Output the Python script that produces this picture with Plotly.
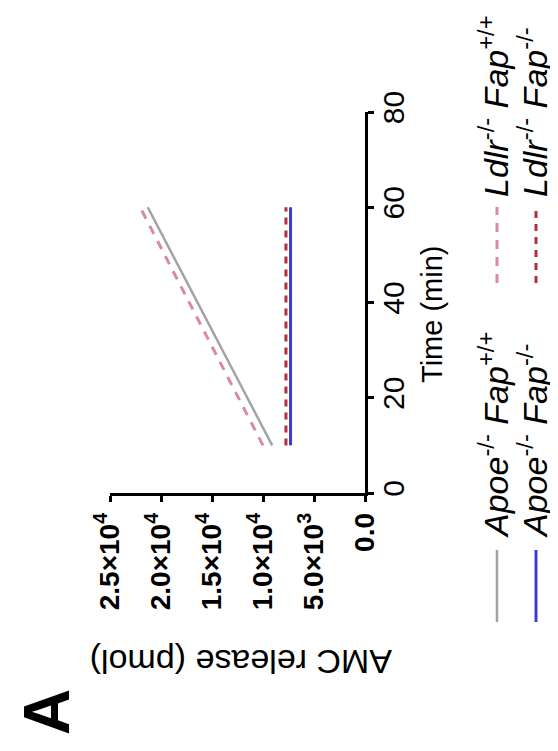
import plotly.graph_objects as go

# ---------------- data ----------------
time_min = [10, 60]
apoe_fap_wt = [9100, 21300]    # Apoe-/- Fap+/+
ldlr_fap_wt = [10000, 22050]   # Ldlr-/- Fap+/+
apoe_fap_ko = [7300, 7300]     # Apoe-/- Fap-/-
ldlr_fap_ko = [7750, 7750]     # Ldlr-/- Fap-/-

amc_ticks = [0, 5000, 10000, 15000, 20000, 25000]
amc_ticktext = ["0.0", "5.0×10<sup>3</sup>", "1.0×10<sup>4</sup>",
                "1.5×10<sup>4</sup>", "2.0×10<sup>4</sup>", "2.5×10<sup>4</sup>"]
time_ticks = [0, 20, 40, 60, 80]

series_names = [
    "<i>Apoe</i><sup>-/-</sup> <i>Fap</i><sup>+/+</sup>",
    "<i>Ldlr</i><sup>-/-</sup> <i>Fap</i><sup>+/+</sup>",
    "<i>Apoe</i><sup>-/-</sup> <i>Fap</i><sup>-/-</sup>",
    "<i>Ldlr</i><sup>-/-</sup> <i>Fap</i><sup>-/-</sup>",
]
series_vals = [apoe_fap_wt, ldlr_fap_wt, apoe_fap_ko, ldlr_fap_ko]
series_colors = ["#a3a3a3", "#d98a9e", "#3b3bd0", "#b0303c"]
series_dash = ["solid", "9px,8px", "solid", "7px,6px"]
series_width = [2.5, 3, 3, 3]

# ---------------- layout constants (screen pixels) ----------------
SW, SH = 558, 751          # browser window
OFF = 8                    # default page body margin
W, H = SW - OFF, SH - OFF  # figure size
X_LEFT, X_RIGHT = 110, 365     # screen x of plot area
Y_TOP, Y_BOT = 112, 493        # screen y of plot area
L, R = X_LEFT - OFF, SW - X_RIGHT
T, B = Y_TOP - OFF, SH - Y_BOT
PW, PH = X_RIGHT - X_LEFT, Y_BOT - Y_TOP
FONT = "Liberation Sans, Arial, sans-serif"


def px(x):
    return (x - X_LEFT) / PW


def py(y):
    return (Y_BOT - y) / PH


fig = go.Figure()
for name, vals, col, dash, lw in zip(series_names, series_vals, series_colors,
                                     series_dash, series_width):
    fig.add_trace(go.Scatter(x=vals, y=time_min, mode="lines", name=name,
                             line=dict(color=col, width=lw, dash=dash),
                             showlegend=False))

fig.update_layout(
    width=W, height=H, autosize=False,
    margin=dict(l=L, r=R, t=T, b=B, pad=0),
    paper_bgcolor="white", plot_bgcolor="white",
    font=dict(family=FONT, color="black"),
    xaxis=dict(range=[25000, 0], tickvals=amc_ticks, ticktext=amc_ticktext,
               tickangle=-90, ticks="outside", ticklen=6, tickwidth=2.5,
               tickcolor="black", showline=True, linewidth=2.5,
               linecolor="black", showgrid=False, zeroline=False,
               tickfont=dict(size=28, family=FONT, weight="bold")),
    yaxis=dict(range=[0, 80], side="right", tickvals=time_ticks,
               tickangle=-90, ticks="outside", ticklen=6, tickwidth=2.5,
               tickcolor="black", showline=True, linewidth=2.5,
               linecolor="black", showgrid=False, zeroline=False,
               ticklabelstandoff=-6,
               tickfont=dict(size=30, family=FONT)),
)

ann = []
ann.append(dict(text="Time (min)", x=px(432), y=py(315), xref="paper",
                yref="paper", showarrow=False, textangle=-90,
                xanchor="center", yanchor="middle",
                font=dict(size=29, family=FONT)))
ann.append(dict(text="AMC release (pmol)", x=px(241), y=py(662),
                xref="paper", yref="paper", showarrow=False, textangle=180,
                xanchor="center", yanchor="middle",
                font=dict(size=34, family=FONT)))
ann.append(dict(text="<b>A</b>", x=px(47), y=py(712), xref="paper",
                yref="paper", showarrow=False, textangle=-90,
                xanchor="center", yanchor="middle", borderpad=0,
                font=dict(size=64, family=FONT)))

# legend (rotated, drawn by hand): columns correspond to original legend rows
leg_sym_x = [497, 497, 536, 536]
leg_sym_y = [(622, 550), (283, 207), (622, 550), (283, 207)]
leg_text_x = [493, 493, 532, 532]
leg_text_y = [540, 199, 540, 199]
shapes = []
for i, (name, col, dash, lw) in enumerate(zip(series_names, series_colors,
                                              series_dash, series_width)):
    y0, y1 = leg_sym_y[i]
    shapes.append(dict(type="line", xref="paper", yref="paper",
                       x0=px(leg_sym_x[i]), x1=px(leg_sym_x[i]),
                       y0=py(y0), y1=py(y1),
                       line=dict(color=col, width=lw, dash=dash)))
    ann.append(dict(text=name, x=px(leg_text_x[i]), y=py(leg_text_y[i]),
                    xref="paper", yref="paper", showarrow=False,
                    textangle=-90, xanchor="center", yanchor="bottom",
                    font=dict(size=34, family=FONT)))

fig.update_layout(annotations=ann, shapes=shapes)
fig.write_html("out.html")
